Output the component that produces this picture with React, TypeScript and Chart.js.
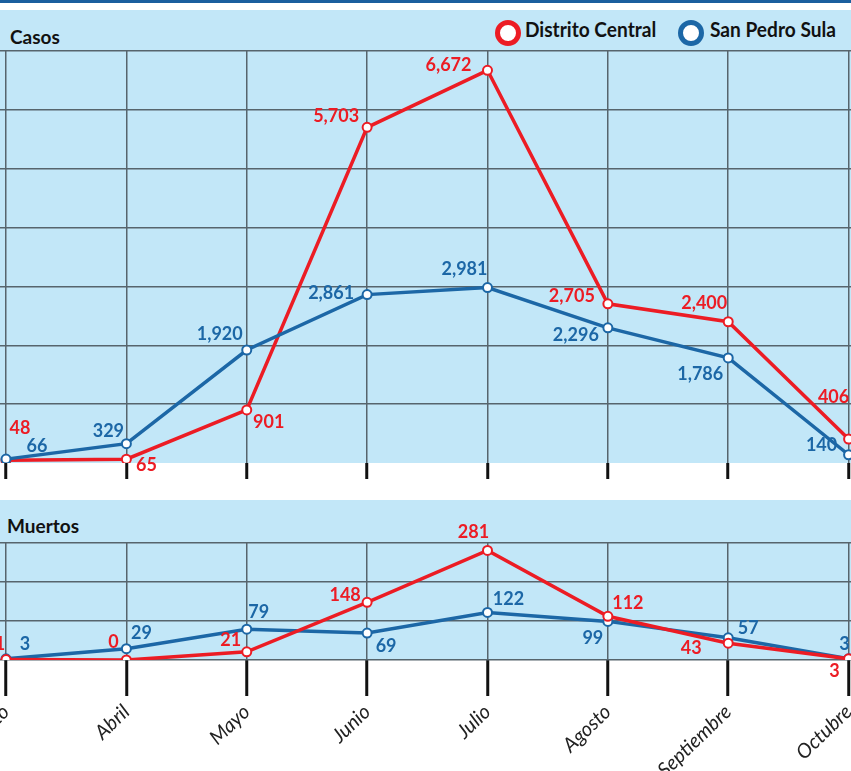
import React, { useEffect, useRef } from 'react';
import { Chart, registerables } from 'chart.js';

Chart.register(...registerables);

const months = ['Marzo', 'Abril', 'Mayo', 'Junio', 'Julio', 'Agosto', 'Septiembre', 'Octubre'];
const casosDistrito = [48, 65, 901, 5703, 6672, 2705, 2400, 406];
const casosSanPedro = [66, 329, 1920, 2861, 2981, 2296, 1786, 140];
const muertosDistrito = [1, 0, 21, 148, 281, 112, 43, 3];
const muertosSanPedro = [3, 29, 79, 69, 122, 99, 57, 3];
const casosMax = 7000;
const casosStep = 1000;
const muertosMax = 300;
const muertosStep = 100;

const RED = '#ec1c24';
const BLUE = '#1c67a6';
const PANEL = '#c2e7f8';
const GRID = '#56656d';
const FONT = 'Lato';

// label placement (text centre relative to its point)
const offCasosDC = [[14, -33], [20, 5], [22, 12], [-31, -12], [-39, -6], [-36, -8], [-24, -19], [-15, -43]];
const offCasosSPS = [[31, -14], [-18, -13], [-27, -16], [-36, -2], [-23, -19], [-32, 7], [-28, 16], [-27, -10]];
const offMuertosDC = [[-6, -16], [-13, -19], [-16, -12], [-22, -8], [-14, -19], [20, -14], [-37, 4], [-14, 12]];
const offMuertosSPS = [[19, -15], [15, -16], [12, -18], [19, 12], [21, -14], [-15, 16], [20, -10], [-4, -15]];

const fmt = (v: number) => v.toLocaleString('en-US');

function labelPlugin(offsets: number[][][]) {
  return {
    id: 'pointLabels',
    afterDatasetsDraw(chart: any) {
      const ctx = chart.ctx;
      ctx.save();
      ctx.font = `bold 18px ${FONT}`;
      ctx.textAlign = 'center';
      ctx.textBaseline = 'alphabetic';
      chart.data.datasets.forEach((ds: any, di: number) => {
        const meta = chart.getDatasetMeta(di);
        meta.data.forEach((pt: any, i: number) => {
          const [dx, dy] = offsets[di][i];
          ctx.fillStyle = ds.borderColor;
          ctx.fillText(fmt(ds.data[i].y), pt.x + dx, pt.y + dy + 6.5);
        });
      });
      ctx.restore();
    },
  };
}

interface Cfg {
  dc: number[];
  sps: number[];
  max: number;
  step: number;
  offDC: number[][];
  offSPS: number[][];
  redOnTop: boolean;
  padTop: number;
  padBottom: number;
  axisH: number;
  tickLen: number;
  showLabels: boolean;
  hideZero: boolean;
}

function makeChart(canvas: HTMLCanvasElement, c: Cfg) {
  const ds = (arr: number[], color: string, order: number) => ({
    data: arr.map((v, i) => ({ x: i, y: v })),
    borderColor: color,
    borderWidth: 3.5,
    pointRadius: 4.5,
    pointBorderWidth: 2,
    pointBackgroundColor: '#ffffff',
    pointBorderColor: color,
    tension: 0,
    order,
  });
  return new Chart(canvas, {
    type: 'line',
    data: {
      datasets: [
        ds(c.dc, RED, c.redOnTop ? 0 : 1),
        ds(c.sps, BLUE, c.redOnTop ? 1 : 0),
      ],
    },
    options: {
      responsive: false,
      animation: false,
      layout: { autoPadding: false, padding: { top: c.padTop, bottom: c.padBottom, left: 0, right: 0 } },
      plugins: { legend: { display: false }, tooltip: { enabled: false } },
      scales: {
        x: {
          type: 'linear',
          min: -0.05,
          max: 7.02,
          afterBuildTicks: (s: any) => {
            s.ticks = months.map((_, i) => ({ value: i }));
          },
          afterFit: (s: any) => {
            s.height = c.axisH;
            s.paddingLeft = 0;
            s.paddingRight = 0;
          },
          ticks: {
            display: c.showLabels,
            autoSkip: false,
            minRotation: 44,
            maxRotation: 44,
            padding: 4,
            color: '#222222',
            font: { family: FONT, size: 20, style: 'italic', weight: 'normal' },
            callback: (v: any) => months[v] ?? '',
          },
          grid: {
            color: GRID,
            lineWidth: 1.5,
            tickColor: '#111111',
            tickWidth: 3,
            tickLength: c.tickLen,
            drawOnChartArea: true,
            drawTicks: true,
          },
          border: { display: false },
        },
        y: {
          min: 0,
          max: c.max,
          ticks: { display: false, stepSize: c.step },
          grid: {
            color: (ctx: any) => (c.hideZero && ctx.tick && ctx.tick.value === 0 ? 'rgba(0,0,0,0)' : GRID),
            lineWidth: 1.5,
            drawTicks: false,
          },
          border: { display: false },
        },
      },
    } as any,
    plugins: [labelPlugin([c.offDC, c.offSPS])],
  });
}

export default function App() {
  const c1 = useRef<HTMLCanvasElement>(null);
  const c2 = useRef<HTMLCanvasElement>(null);

  useEffect(() => {
    const a = makeChart(c1.current!, {
      dc: casosDistrito,
      sps: casosSanPedro,
      max: casosMax,
      step: casosStep,
      offDC: offCasosDC,
      offSPS: offCasosSPS,
      redOnTop: false,
      padTop: 51,
      padBottom: 11,
      axisH: 16,
      tickLen: 16,
      showLabels: false,
      hideZero: true,
    });
    const b = makeChart(c2.current!, {
      dc: muertosDistrito,
      sps: muertosSanPedro,
      max: muertosMax,
      step: muertosStep,
      offDC: offMuertosDC,
      offSPS: offMuertosSPS,
      redOnTop: true,
      padTop: 53,
      padBottom: 0,
      axisH: 111,
      tickLen: 36,
      showLabels: true,
      hideZero: false,
    });
    return () => {
      a.destroy();
      b.destroy();
    };
  }, []);

  const abs = (s: React.CSSProperties): React.CSSProperties => ({ position: 'absolute', ...s });
  const title: React.CSSProperties = {
    fontFamily: FONT,
    fontWeight: 700,
    fontSize: 19,
    lineHeight: 1.2,
    color: '#111111',
    whiteSpace: 'nowrap',
  };
  const legendText: React.CSSProperties = {
    fontFamily: FONT,
    fontWeight: 700,
    fontSize: 21,
    lineHeight: 1.2,
    color: '#111111',
    whiteSpace: 'nowrap',
    transform: 'scaleX(0.91)',
    transformOrigin: 'left center',
  };
  const ring = (color: string, cx: number): React.CSSProperties =>
    abs({
      left: cx - 13,
      top: 20,
      width: 16,
      height: 16,
      borderRadius: '50%',
      border: `5px solid ${color}`,
      background: '#ffffff',
    });

  return (
    <div style={abs({ left: 0, top: 0, width: 851, height: 771, overflow: 'hidden', background: '#ffffff' })}>
      <div style={abs({ left: 0, top: 0, width: 851, height: 3, background: '#1b5f9e' })} />
      <div style={abs({ left: 0, top: 10, width: 851, height: 453, background: PANEL })} />
      <div style={abs({ left: 0, top: 500, width: 851, height: 160, background: PANEL })} />
      <div style={abs({ left: 10, top: 25.5, ...title })}>Casos</div>
      <div style={abs({ left: 7, top: 514.5, ...title })}>Muertos</div>
      <div style={ring(RED, 508)} />
      <div style={abs({ left: 525, top: 15.5, ...legendText })}>Distrito Central</div>
      <div style={ring(BLUE, 691)} />
      <div style={abs({ left: 710, top: 15.5, ...legendText })}>San Pedro Sula</div>
      <canvas ref={c1} width={851} height={490} style={abs({ left: 0, top: 0 })} />
      <canvas ref={c2} width={851} height={281} style={abs({ left: 0, top: 490 })} />
    </div>
  );
}
